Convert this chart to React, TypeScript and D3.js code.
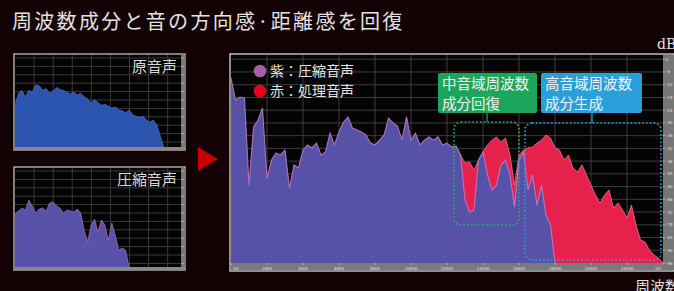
import * as d3 from 'd3'
import React from 'react'

// main spectrum, 250 Hz per bin, dB
const mainStep = 250
const purpleDb = [
  -8.8, -19.2, -17.8, -18.3, -59.3, -31.9, -28.6, -23.0, -56.0, -47.5,
  -44.2, -45.1, -42.8, -60.6, -49.8, -51.2, -42.8, -40.4, -41.8, -39.5,
  -45.1, -43.7, -34.8, -40.4, -34.3, -29.6, -27.2, -32.4, -33.3, -34.3,
  -35.7, -39.5, -40.4, -38.1, -35.7, -27.7, -30.0, -31.5, -38.1, -27.2,
  -38.1, -34.8, -40.4, -38.1, -36.6, -38.1, -36.6, -40.4, -39.5, -41.3,
  -40.9, -45.1, -66.3, -72.0, -71.0, -47.5, -43.7, -54.5, -61.6, -59.3,
  -49.8, -47.5, -54.5, -69.6, -47.5, -43.7, -61.6, -54.5, -68.7, -59.3,
  -73.4, -78.1, -96,
]
// processed (red) from 12500 Hz up
const redStart = 12500
const redDb = [
  -40.9, -45.1, -48.9, -48.4, -52.2, -47.5, -43.7, -40.4, -38.1, -36.6,
  -39.0, -37.1, -45.1, -59.3, -45.1, -42.8, -41.8, -41.3, -39.5, -38.1,
  -35.7, -37.1, -41.8, -42.8, -47.5, -45.1, -51.2, -53.1, -49.8, -54.5,
  -59.3, -64.0, -67.7, -64.0, -61.6, -70.1, -67.7, -71.0, -74.8, -68.7,
  -78.1, -85.2, -86.1, -89.9, -92.2, -93.7, -96,
]

// small panels, 500 Hz per bin
const smallStep = 500
const originalDb = [
  -51, -38, -35, -42, -35, -37, -29, -30, -35, -33, -38, -36, -32, -34, -35,
  -37, -39, -37, -40, -38, -42, -44, -49, -45, -48, -51, -50, -52, -54, -53,
  -56, -57, -59, -56, -61, -63, -64, -63, -67, -69, -67, -72, -84, -96,
]
const compressedDb = [
  -43, -40, -37, -39, -29, -35, -42, -38, -37, -40, -32, -31, -35, -37, -42,
  -39, -40, -41, -38, -42, -59, -71, -54, -48, -61, -49, -54, -69, -52, -64,
  -79, -77, -79, -96,
]

const freqTicks = [0, 2000, 4000, 6000, 8000, 10000, 12000, 14000, 16000, 18000, 20000, 22000, 24000]
const freqLabels = ['Hz', '2000', '4000', '6000', '8000', '10000', '12000', '14000', '16000', '18000', '20000', '22000', 'Hz']
const dbTicks = [0, -6, -12, -18, -24, -30, -36, -42, -48, -54, -60, -66, -72, -78, -84, -90, -96]
const legendItems = ['紫：圧縮音声', '赤：処理音声']
const midNote = ['中音域周波数', '成分回復']
const highNote = ['高音域周波数', '成分生成']

const font = '"Noto Sans CJK JP", "Noto Sans CJK SC", sans-serif'
const txt = '#e6e2e2'

const SmallPanel = ({ data, top, bottom, color, edge, label }: any) => {
  const x = d3.scaleLinear().domain([0, 24000]).range([15, 181])
  const y = d3.scaleLinear().domain([-96, 2]).range([bottom, top + 1])
  const area = d3.area<number>().x((d, i) => x(i * smallStep)).y0(bottom).y1(d => y(d))
  const line = d3.line<number>().x((d, i) => x(i * smallStep)).y(d => y(d))
  const cols = d3.range(1, 9).map(i => 15 + i * 166 / 8.7)
  const rows = d3.range(top + 3, bottom, 8.4)
  return (
    <g>
      <rect x={14} y={top - 1} width={171} height={bottom - top + 4} fill="#030303" stroke="#cfcfcf" strokeWidth={1.2} />
      {cols.map((c, i) => <line key={'c' + i} x1={c} x2={c} y1={top} y2={bottom} stroke="#3a3a3a" strokeWidth={1} />)}
      {rows.map((r, i) => <line key={'r' + i} x1={15} x2={181} y1={r} y2={r} stroke="#3a3a3a" strokeWidth={1} />)}
      <rect x={181} y={top} width={4} height={bottom - top + 3} fill="#777" />
      {rows.map((r, i) => <line key={'t' + i} x1={182} x2={184} y1={r} y2={r} stroke="#ccc" strokeWidth={0.8} />)}
      <rect x={15} y={bottom} width={170} height={3} fill="#888" />
      <path d={area(data) || ''} fill={color} />
      <path d={line(data) || ''} fill="none" stroke={edge} strokeWidth={0.8} opacity={0.7} />
      <text x={177} y={top + 17} textAnchor="end" fontFamily={font} fontSize={15} fill="#d8d8d8">{label}</text>
    </g>
  )
}

export default function App() {
  const x = d3.scaleLinear().domain([0, 24000]).range([231, 663])
  const y = d3.scaleLinear().domain([-96, 2]).range([263, 55])
  const purpleArea = d3.area<number>().x((d, i) => x(i * mainStep)).y0(263).y1(d => y(d))
  const purpleLine = d3.line<number>().x((d, i) => x(i * mainStep)).y(d => y(d))
  const redArea = d3.area<number>().x((d, i) => x(redStart + i * mainStep)).y0(263).y1(d => y(d))
  const redLine = d3.line<number>().x((d, i) => x(redStart + i * mainStep)).y(d => y(d))

  return (
    <svg width={674} height={291} style={{ position: 'fixed', left: 0, top: 0, display: 'block' }}>
      <rect width={674} height={291} fill="#130204" />
      <text x={12} y={29} fontFamily={font} fontSize={20} letterSpacing={2.3} fill={txt}>周波数成分と音の方向感·距離感を回復</text>

      <SmallPanel data={originalDb} top={55} bottom={147} color="#2b55ae" edge="#5a7ad0" label="原音声" />
      <SmallPanel data={compressedDb} top={168} bottom={267} color="#5a52a8" edge="#c27ac8" label="圧縮音声" />

      <path d="M198,147 L218,159 L198,171 Z" fill="#c50000" />

      {/* main chart */}
      <rect x={230} y={54} width={444} height={217} fill="#040404" stroke="#c8c8c8" strokeWidth={1.4} />
      {freqTicks.slice(1, -1).map(f => <line key={'v' + f} x1={x(f)} x2={x(f)} y1={55} y2={263} stroke="#3d3d3d" strokeWidth={1} />)}
      {dbTicks.map(d => <line key={'h' + d} x1={231} x2={663} y1={y(d)} y2={y(d)} stroke="#3d3d3d" strokeWidth={1} />)}

      <path d={redArea(redDb) || ''} fill="#e6224c" />
      <path d={redLine(redDb) || ''} fill="none" stroke="#f47a9a" strokeWidth={0.9} opacity={0.8} />
      <path d={purpleArea(purpleDb) || ''} fill="#5751a7" />
      <path d={purpleLine(purpleDb) || ''} fill="none" stroke="#c67ccb" strokeWidth={1.1} opacity={0.85} />

      {/* axes strips */}
      <rect x={231} y={263} width={432} height={7} fill="#7a7a7a" />
      {freqTicks.map((f, i) => (
        <g key={'fl' + f}>
          <line x1={x(f)} x2={x(f)} y1={263} y2={265} stroke="#ddd" strokeWidth={0.6} />
          <text x={Math.min(Math.max(x(f), 236), 658)} y={269.5} textAnchor="middle" fontFamily="DejaVu Sans" fontSize={4} fill="#e0e0e0">{freqLabels[i]}</text>
        </g>
      ))}
      <rect x={663} y={55} width={11} height={215} fill="#767676" />
      {dbTicks.map(d => (
        <g key={'dl' + d}>
          <line x1={663} x2={665} y1={y(d)} y2={y(d)} stroke="#ddd" strokeWidth={0.6} />
          <text x={666} y={y(d) + 1.5} fontFamily="DejaVu Sans" fontSize={4} fill="#e0e0e0">{d}</text>
        </g>
      ))}

      {/* legend */}
      <circle cx={260} cy={71} r={6.3} fill="#a45fa8" />
      <circle cx={260} cy={91} r={6.3} fill="#e8001e" />
      {legendItems.map((t, i) => (
        <text key={t} x={270} y={76 + i * 20} fontFamily={font} fontSize={14} fill={txt}>{t}</text>
      ))}

      {/* callouts */}
      <rect x={454} y={122} width={65} height={103} rx={7} fill="none" stroke="#22b468" strokeWidth={1.6} strokeDasharray="1.6 2.2" />
      <line x1={487} x2={487} y1={113} y2={122} stroke="#22a862" strokeWidth={1.2} />
      <rect x={438} y={73} width={99} height={40} rx={2} fill="#1ea55c" />
      {midNote.map((t, i) => (
        <text key={t} x={442} y={89 + i * 19.5} fontFamily={font} fontSize={14.5} fill="#f2f2f2">{t}</text>
      ))}

      <rect x={525} y={123} width={136} height={137} rx={7} fill="none" stroke="#2aa4dc" strokeWidth={1.6} strokeDasharray="1.6 2.2" />
      <line x1={592} x2={592} y1={113} y2={123} stroke="#2aa0d8" strokeWidth={1.2} />
      <rect x={541} y={73} width={101} height={40} rx={2} fill="#2b9fd9" />
      {highNote.map((t, i) => (
        <text key={t} x={545} y={89 + i * 19.5} fontFamily={font} fontSize={14.5} fill="#f2f2f2">{t}</text>
      ))}

      <text x={657} y={49} fontFamily="DejaVu Serif" fontSize={14} fill={txt}>dB</text>
      <text x={635} y={292} fontFamily={font} fontSize={15} fill={txt}>周波数</text>
    </svg>
  )
}
